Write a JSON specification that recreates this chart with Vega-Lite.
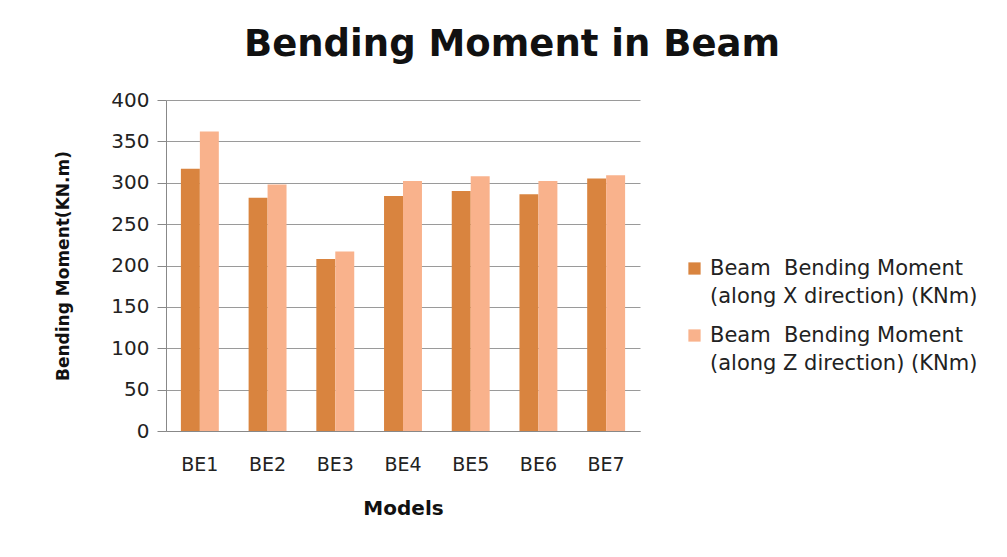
{
  "$schema": "https://vega.github.io/schema/vega-lite/v6.json",
  "autosize": "none",
  "width": 474,
  "height": 331,
  "padding": {"left": 166, "top": 100, "right": 367, "bottom": 126},
  "background": "white",
  "title": {
    "text": "Bending Moment in Beam",
    "font": "DejaVu Sans",
    "fontSize": 37,
    "fontWeight": "bold",
    "color": "#111111",
    "anchor": "middle",
    "dx": 109,
    "offset": 26
  },
  "data": {
    "values": [
      {"model": "BE1", "series": "Beam \u00a0Bending Moment|(along X direction) (KNm)", "value": 317},
      {"model": "BE1", "series": "Beam \u00a0Bending Moment|(along Z direction) (KNm)", "value": 362},
      {"model": "BE2", "series": "Beam \u00a0Bending Moment|(along X direction) (KNm)", "value": 282},
      {"model": "BE2", "series": "Beam \u00a0Bending Moment|(along Z direction) (KNm)", "value": 298},
      {"model": "BE3", "series": "Beam \u00a0Bending Moment|(along X direction) (KNm)", "value": 208},
      {"model": "BE3", "series": "Beam \u00a0Bending Moment|(along Z direction) (KNm)", "value": 217},
      {"model": "BE4", "series": "Beam \u00a0Bending Moment|(along X direction) (KNm)", "value": 284},
      {"model": "BE4", "series": "Beam \u00a0Bending Moment|(along Z direction) (KNm)", "value": 302},
      {"model": "BE5", "series": "Beam \u00a0Bending Moment|(along X direction) (KNm)", "value": 290},
      {"model": "BE5", "series": "Beam \u00a0Bending Moment|(along Z direction) (KNm)", "value": 308},
      {"model": "BE6", "series": "Beam \u00a0Bending Moment|(along X direction) (KNm)", "value": 286},
      {"model": "BE6", "series": "Beam \u00a0Bending Moment|(along Z direction) (KNm)", "value": 302},
      {"model": "BE7", "series": "Beam \u00a0Bending Moment|(along X direction) (KNm)", "value": 305},
      {"model": "BE7", "series": "Beam \u00a0Bending Moment|(along Z direction) (KNm)", "value": 309}
    ]
  },
  "mark": {"type": "bar"},
  "encoding": {
    "x": {
      "field": "model",
      "type": "nominal",
      "scale": {"paddingInner": 0.44, "paddingOuter": 0.22},
      "axis": {
        "title": "Models",
        "labelAngle": 0,
        "labelFont": "DejaVu Sans",
        "labelFontSize": 19,
        "labelColor": "#222222",
        "labelPadding": 24,
        "ticks": false,
        "domainColor": "#888888",
        "titleFont": "DejaVu Sans",
        "titleFontSize": 20,
        "titleFontWeight": "bold",
        "titleColor": "#111111",
        "titlePadding": 24
      }
    },
    "xOffset": {"field": "series", "type": "nominal"},
    "y": {
      "field": "value",
      "type": "quantitative",
      "scale": {"domain": [0, 400]},
      "axis": {
        "title": "Bending Moment(KN.m)",
        "values": [0, 50, 100, 150, 200, 250, 300, 350, 400],
        "labelOverlap": false,
        "labelFont": "DejaVu Sans",
        "labelFontSize": 20,
        "labelColor": "#222222",
        "labelPadding": 8,
        "tickSize": 9,
        "tickColor": "#888888",
        "domainColor": "#888888",
        "gridColor": "#9a9a9a",
        "gridOpacity": 1,
        "titleFont": "DejaVu Sans",
        "titleFontSize": 17,
        "titleFontWeight": "bold",
        "titleColor": "#111111",
        "titlePadding": 38
      }
    },
    "color": {
      "field": "series",
      "type": "nominal",
      "scale": {"range": ["#D9843F", "#F9B28C"]},
      "legend": {
        "title": null,
        "orient": "none",
        "legendX": 518,
        "legendY": 158,
        "symbolType": "square",
        "symbolSize": 150,
        "symbolStrokeWidth": 0,
        "labelFont": "DejaVu Sans",
        "labelFontSize": 21,
        "labelColor": "#222222",
        "labelLimit": 400,
        "labelExpr": "split(datum.label, '|')",
        "rowPadding": 17,
        "labelOffset": 5
      }
    }
  },
  "config": {
    "view": {"stroke": null},
    "axis": {"gridWidth": 1},
    "style": {"guide-label": {"lineHeight": 28}}
  }
}
